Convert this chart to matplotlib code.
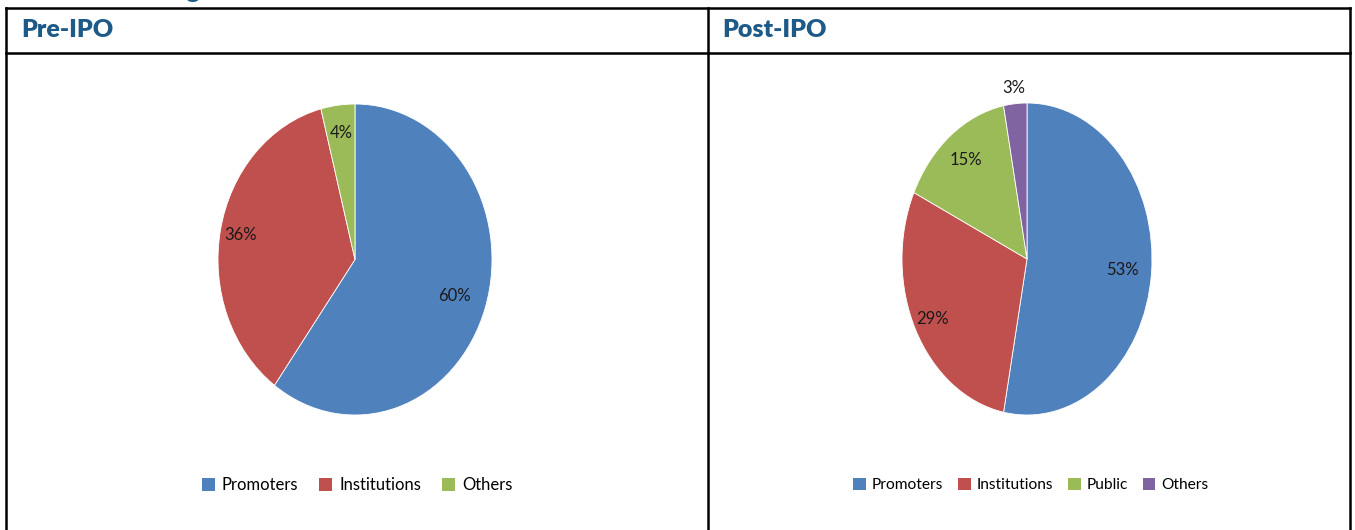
import matplotlib
matplotlib.use("Agg")
import matplotlib.pyplot as plt
from matplotlib.patches import Patch
import numpy as np

# ---- data ----
pre_categories = ["Promoters", "Institutions", "Others"]
pre_values = [60, 36, 4]
post_categories = ["Promoters", "Institutions", "Public", "Others"]
post_values = [53, 29, 15, 3]
panel_titles = ["Pre-IPO", "Post-IPO"]

# ---- style ----
pre_colors = ["#4F81BD", "#C0504D", "#9BBB59"]
post_colors = ["#4F81BD", "#C0504D", "#9BBB59", "#8064A2"]
header_color = "#1D5A87"
label_font = ["Lato", "DejaVu Sans"]
header_font = ["Lato", "DejaVu Sans"]

W, H = 1355, 530
fig = plt.figure(figsize=(W / 100, H / 100), dpi=100)
fig.patch.set_facecolor("white")


def fx(px):
    return px / W


def fy(py):
    return 1 - py / H


# table frame
lw = 1.8
frame = fig.add_axes([0, 0, 1, 1])
frame.set_xlim(0, W)
frame.set_ylim(H, 0)
frame.axis("off")
frame.plot([6, 1350], [8, 8], color="black", lw=lw, solid_capstyle="projecting")
frame.plot([6, 1350], [52.5, 52.5], color="black", lw=lw)
frame.plot([6, 6], [8, H], color="black", lw=lw)
frame.plot([708, 708], [8, H], color="black", lw=lw)
frame.plot([1349.5, 1349.5], [8, H], color="black", lw=lw)

# cut-off section title above the table (only a descender is visible)
fig.text(fx(201), fy(-1.5), "Shareholding", ha="right", va="baseline",
         fontsize=18, fontweight="heavy", color=header_color, family=header_font)

# headers
fig.text(fx(21), fy(30), panel_titles[0], ha="left", va="center",
         fontsize=18, fontweight="heavy", color=header_color, family=header_font)
fig.text(fx(722), fy(30), panel_titles[1], ha="left", va="center",
         fontsize=18, fontweight="heavy", color=header_color, family=header_font)


def draw_pie(box, values, cols, cats, label_dist, legend_center, fsize, colsp):
    l, t, r, b = box
    ax = fig.add_axes([fx(l), fy(b), fx(r - l), (b - t) / H])
    wedges, _ = ax.pie(values, colors=cols, startangle=90, counterclock=False,
                       radius=1, wedgeprops=dict(edgecolor="white", linewidth=0.6))
    ax.set_aspect("auto")
    ax.set_xlim(-1, 1)
    ax.set_ylim(-1, 1)
    ax.axis("off")
    for w, v, d in zip(wedges, values, label_dist):
        ang = np.deg2rad((w.theta1 + w.theta2) / 2)
        ax.text(d * np.cos(ang), d * np.sin(ang), f"{v}%", ha="center", va="center",
                fontsize=12, color="#1a1a1a", family=label_font, clip_on=False)
    handles = [Patch(facecolor=c, edgecolor="none") for c in cols]
    fig.legend(handles, cats, loc="center", bbox_to_anchor=(fx(legend_center[0]), fy(legend_center[1])),
               ncol=len(cats), frameon=False, prop=dict(family=label_font, size=fsize),
               handlelength=0.8, handleheight=0.8, handletextpad=0.4, columnspacing=colsp)
    return ax


draw_pie((218, 104, 492, 415), pre_values, pre_colors, pre_categories,
         [0.76, 0.85, 0.82], (357, 485), 12, 1.25)
draw_pie((902, 103, 1152, 415), post_values, post_colors, post_categories,
         [0.77, 0.85, 0.80, 1.10], (1031, 485), 11.2, 0.95)

fig.savefig("out.png", dpi=100, facecolor="white")
